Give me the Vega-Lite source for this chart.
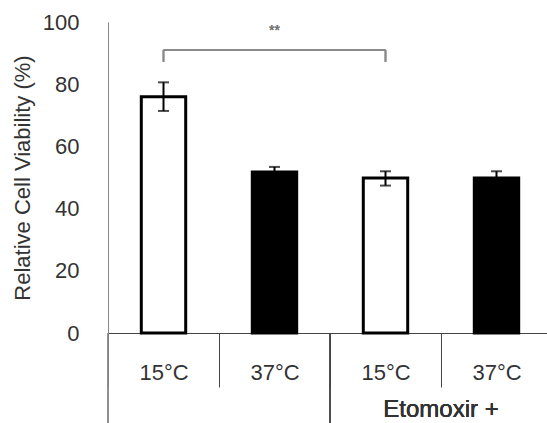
{
  "$schema": "https://vega.github.io/schema/vega-lite/v6.json",
  "width": 444,
  "height": 311,
  "autosize": {"type": "none"},
  "padding": {"left": 108, "top": 22, "right": -5, "bottom": 90},
  "background": "white",
  "config": {
    "view": {"stroke": null},
    "font": "Liberation Sans",
    "text": {"font": "Liberation Sans"}
  },
  "data": {
    "values": [
      {"id": "15°C|a", "temp": "15°C", "mean": 76, "lo": 71.4, "hi": 80.6},
      {"id": "37°C|a", "temp": "37°C", "mean": 51.8, "lo": 50.2, "hi": 53.4},
      {"id": "15°C|b", "temp": "15°C", "mean": 49.8, "lo": 47.4, "hi": 52.0},
      {"id": "37°C|b", "temp": "37°C", "mean": 49.8, "lo": 47.8, "hi": 52.0}
    ]
  },
  "encoding": {
    "x": {
      "field": "id",
      "type": "nominal",
      "sort": null,
      "scale": {"paddingInner": 0, "paddingOuter": 0},
      "axis": {
        "title": null,
        "labelExpr": "split(datum.label, '|')[0]",
        "labelAngle": 0,
        "labelFontSize": 22,
        "labelColor": "#333333",
        "labelPadding": -25,
        "domainColor": "#444444",
        "domainWidth": 1,
        "ticks": true,
        "tickBand": "extent",
        "tickSize": 54,
        "tickColor": "#444444",
        "tickWidth": 1
      }
    }
  },
  "layer": [
    {
      "mark": {"type": "bar", "stroke": "black", "strokeWidth": 3, "width": {"band": 0.4}},
      "encoding": {
        "y": {
          "field": "mean",
          "type": "quantitative",
          "scale": {"domain": [0, 100], "nice": false},
          "axis": {
            "title": "Relative Cell Viability (%)",
            "values": [0, 20, 40, 60, 80, 100],
            "grid": false,
            "ticks": false,
            "labelPadding": 29,
            "labelFontSize": 22,
            "labelColor": "#333333",
            "titleFontSize": 22,
            "titleFontWeight": "normal",
            "titleColor": "#333333",
            "titlePadding": 8,
            "domainColor": "#888888",
            "domainWidth": 1
          }
        },
        "fill": {
          "field": "temp",
          "type": "nominal",
          "scale": {"domain": ["15°C", "37°C"], "range": ["white", "black"]},
          "legend": null
        }
      }
    },
    {
      "mark": {"type": "rule", "color": "black", "strokeWidth": 2},
      "encoding": {
        "y": {"field": "lo", "type": "quantitative"},
        "y2": {"field": "hi"}
      }
    },
    {
      "mark": {"type": "tick", "color": "black", "thickness": 2, "size": 11, "orient": "horizontal"},
      "encoding": {"y": {"field": "hi", "type": "quantitative"}}
    },
    {
      "mark": {"type": "tick", "color": "black", "thickness": 2, "size": 11, "orient": "horizontal"},
      "encoding": {"y": {"field": "lo", "type": "quantitative"}}
    },
    {
      "mark": {"type": "rule", "color": "#888888", "strokeWidth": 1.5},
      "encoding": {
        "x": {"datum": "15°C|a"},
        "x2": {"datum": "15°C|b"},
        "y": {"datum": 91}
      }
    },
    {
      "mark": {"type": "rule", "color": "#888888", "strokeWidth": 1.5},
      "encoding": {
        "x": {"datum": "15°C|a"},
        "y": {"datum": 91},
        "y2": {"datum": 87.2}
      }
    },
    {
      "mark": {"type": "rule", "color": "#888888", "strokeWidth": 1.5},
      "encoding": {
        "x": {"datum": "15°C|b"},
        "y": {"datum": 91},
        "y2": {"datum": 87.2}
      }
    },
    {
      "mark": {"type": "text", "text": "**", "fontSize": 14, "color": "#777777", "baseline": "middle"},
      "encoding": {
        "x": {"datum": "37°C|a"},
        "y": {"datum": 97}
      }
    },
    {
      "mark": {"type": "text", "text": "Etomoxir +", "fontSize": 24, "color": "#333333", "baseline": "middle"},
      "encoding": {
        "x": {"datum": "37°C|b", "bandPosition": 0},
        "y": {"datum": -24.8}
      }
    },
    {
      "mark": {"type": "rule", "color": "#888888", "strokeWidth": 1},
      "encoding": {
        "x": {"datum": "15°C|a", "bandPosition": 0},
        "y": {"datum": 0},
        "y2": {"datum": -29}
      }
    },
    {
      "mark": {"type": "rule", "color": "#444444", "strokeWidth": 1},
      "encoding": {
        "x": {"datum": "15°C|b", "bandPosition": 0},
        "y": {"datum": 0},
        "y2": {"datum": -29}
      }
    }
  ]
}
